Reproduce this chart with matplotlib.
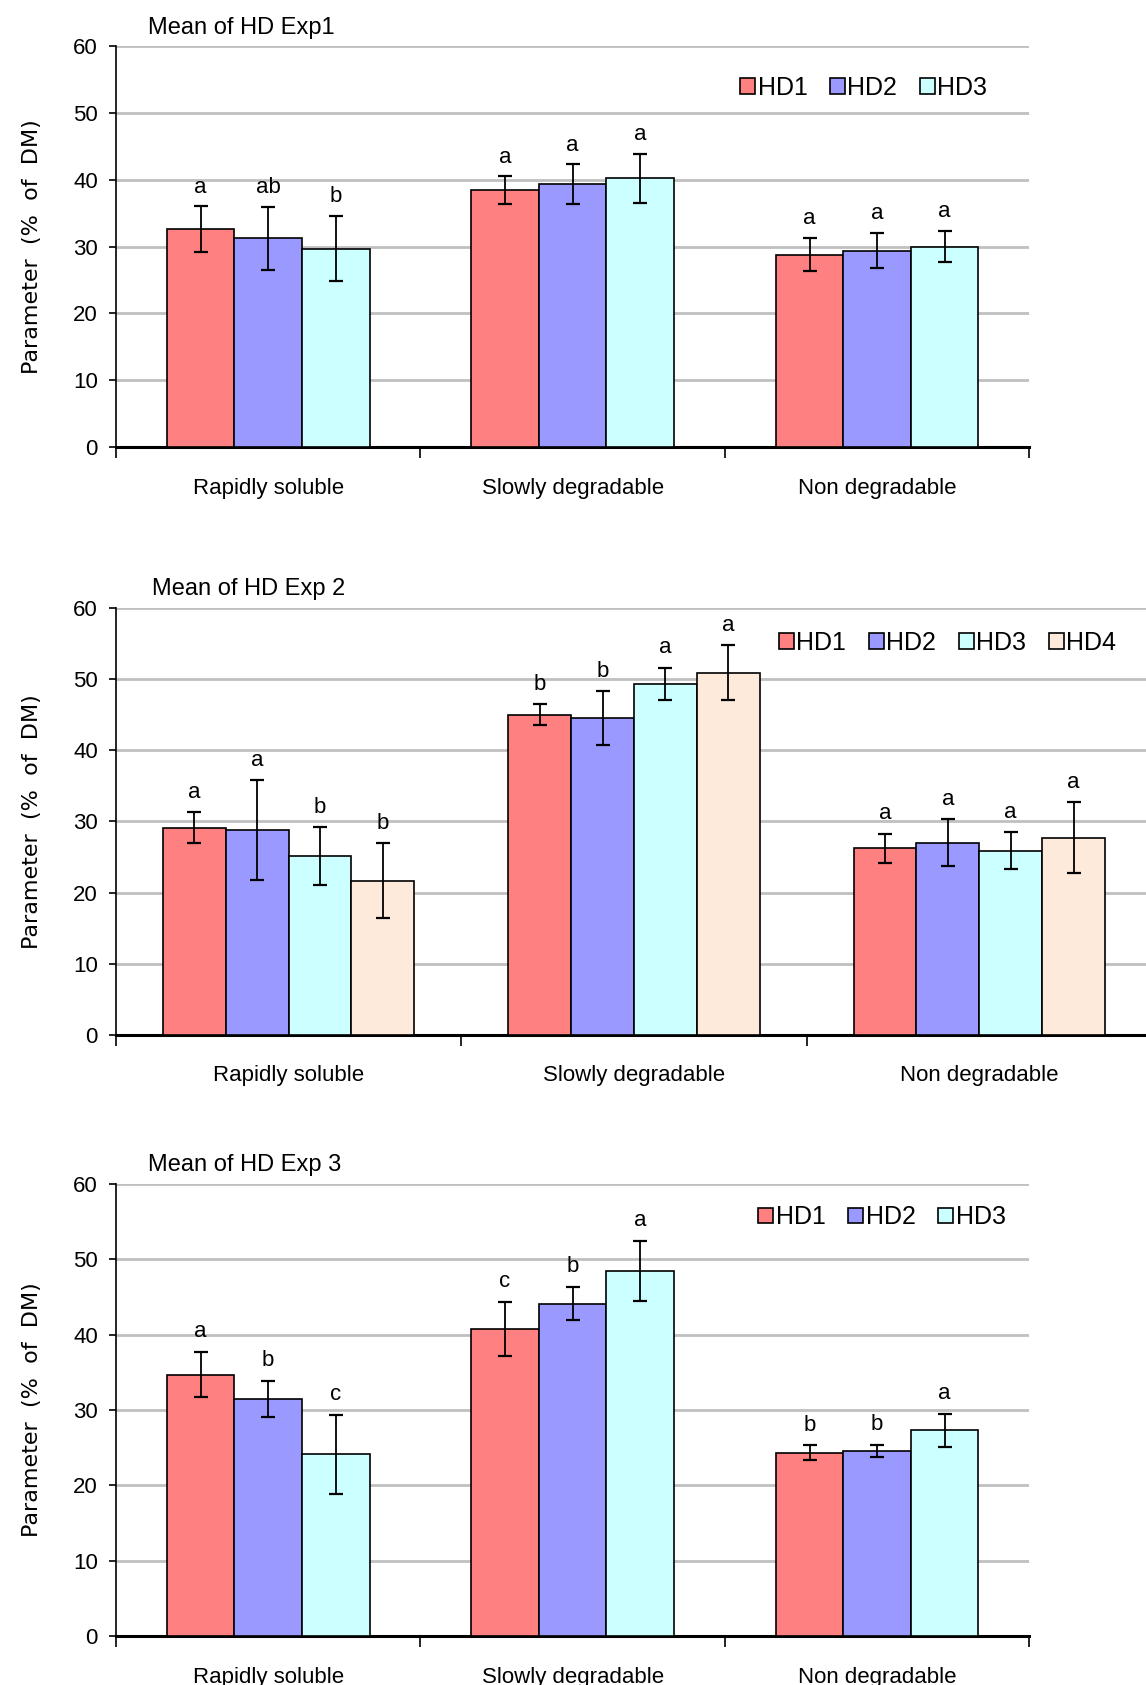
import numpy as np
import matplotlib.pyplot as plt

plt.rcParams['font.family'] = ['Liberation Sans', 'DejaVu Sans']

categories = ["Rapidly soluble", "Slowly degradable", "Non degradable"]
colors = ["#FF8080", "#9999FF", "#CCFFFF", "#FDEADA"]

# Exp 1
exp1_names = ["HD1", "HD2", "HD3"]
exp1_mean = [[32.6, 38.4, 28.8],
             [31.2, 39.3, 29.4],
             [29.7, 40.2, 30.0]]
exp1_err = [[3.4, 2.1, 2.5],
            [4.7, 3.0, 2.6],
            [4.9, 3.7, 2.3]]
exp1_letters = [["a", "a", "a"],
                ["ab", "a", "a"],
                ["b", "a", "a"]]

# Exp 2
exp2_names = ["HD1", "HD2", "HD3", "HD4"]
exp2_mean = [[29.1, 45.0, 26.2],
             [28.8, 44.5, 27.0],
             [25.1, 49.3, 25.9],
             [21.7, 50.9, 27.7]]
exp2_err = [[2.2, 1.5, 2.1],
            [7.0, 3.8, 3.3],
            [4.1, 2.3, 2.6],
            [5.2, 3.9, 5.0]]
exp2_letters = [["a", "b", "a"],
                ["a", "b", "a"],
                ["b", "a", "a"],
                ["b", "a", "a"]]

# Exp 3
exp3_names = ["HD1", "HD2", "HD3"]
exp3_mean = [[34.7, 40.8, 24.3],
             [31.5, 44.1, 24.6],
             [24.1, 48.5, 27.3]]
exp3_err = [[3.0, 3.6, 1.0],
            [2.4, 2.2, 0.8],
            [5.3, 4.0, 2.2]]
exp3_letters = [["a", "c", "b"],
                ["b", "b", "b"],
                ["c", "a", "a"]]

fig = plt.figure(figsize=(11.46, 16.85), dpi=100)


def panel(rect, title, names, means, errs, letters, width, legend_anchor):
    ax = fig.add_axes(rect)
    x = np.arange(len(categories))
    n = len(names)
    for i in range(n):
        off = (i - (n - 1) / 2) * width
        ax.bar(x + off, means[i], width, color=colors[i], edgecolor="black",
               linewidth=1.2, label=names[i], zorder=3)
        ax.errorbar(x + off, means[i], yerr=errs[i], fmt="none", ecolor="black",
                    elinewidth=1.3, capsize=5, capthick=1.6, zorder=4)
        for j in range(len(categories)):
            ax.text(x[j] + off, means[i][j] + errs[i][j] + 1.3, letters[i][j],
                    ha="center", va="bottom", fontsize=16)
    ax.set_xlim(-0.5, 2.5)
    ax.set_ylim(0, 60)
    ax.set_yticks(range(0, 61, 10))
    ax.yaxis.grid(True, color="#C0C0C0", linewidth=2)
    ax.set_axisbelow(True)
    ax.set_xticks(x)
    ax.set_xticklabels(categories, fontsize=16)
    ax.tick_params(axis="x", length=0, pad=22)
    ax.set_xticks([-0.5, 0.5, 1.5, 2.5], minor=True)
    ax.tick_params(axis="x", which="minor", length=8, width=1.2)
    ax.tick_params(axis="y", labelsize=16, length=5, width=1.2, pad=8)
    for s in ["top", "right"]:
        ax.spines[s].set_visible(False)
    ax.spines["bottom"].set_linewidth(2.2)
    ax.spines["left"].set_linewidth(1.2)
    ax.set_ylabel("Parameter  (%  of  DM)", fontsize=16, family="DejaVu Sans",
                  labelpad=22)
    ax.set_title(title, loc="left", fontsize=17, x=0.035, y=1.01)
    ax.legend(loc="upper right", bbox_to_anchor=legend_anchor, ncol=n,
              frameon=False, fontsize=18, handlelength=0.6, handleheight=0.6,
              handletextpad=0.1, columnspacing=0.9, borderaxespad=0)
    return ax


panel([0.1012, 0.7347, 0.797, 0.238], "Mean of HD Exp1",
      exp1_names, exp1_mean, exp1_err, exp1_letters, 0.222, (0.965, 0.95))
panel([0.1012, 0.3858, 0.904, 0.2534], "Mean of HD Exp 2",
      exp2_names, exp2_mean, exp2_err, exp2_letters, 0.182, (0.975, 0.97))
panel([0.1012, 0.0291, 0.797, 0.2682], "Mean of HD Exp 3",
      exp3_names, exp3_mean, exp3_err, exp3_letters, 0.222, (0.985, 0.975))

fig.savefig("out.png", dpi=100)
